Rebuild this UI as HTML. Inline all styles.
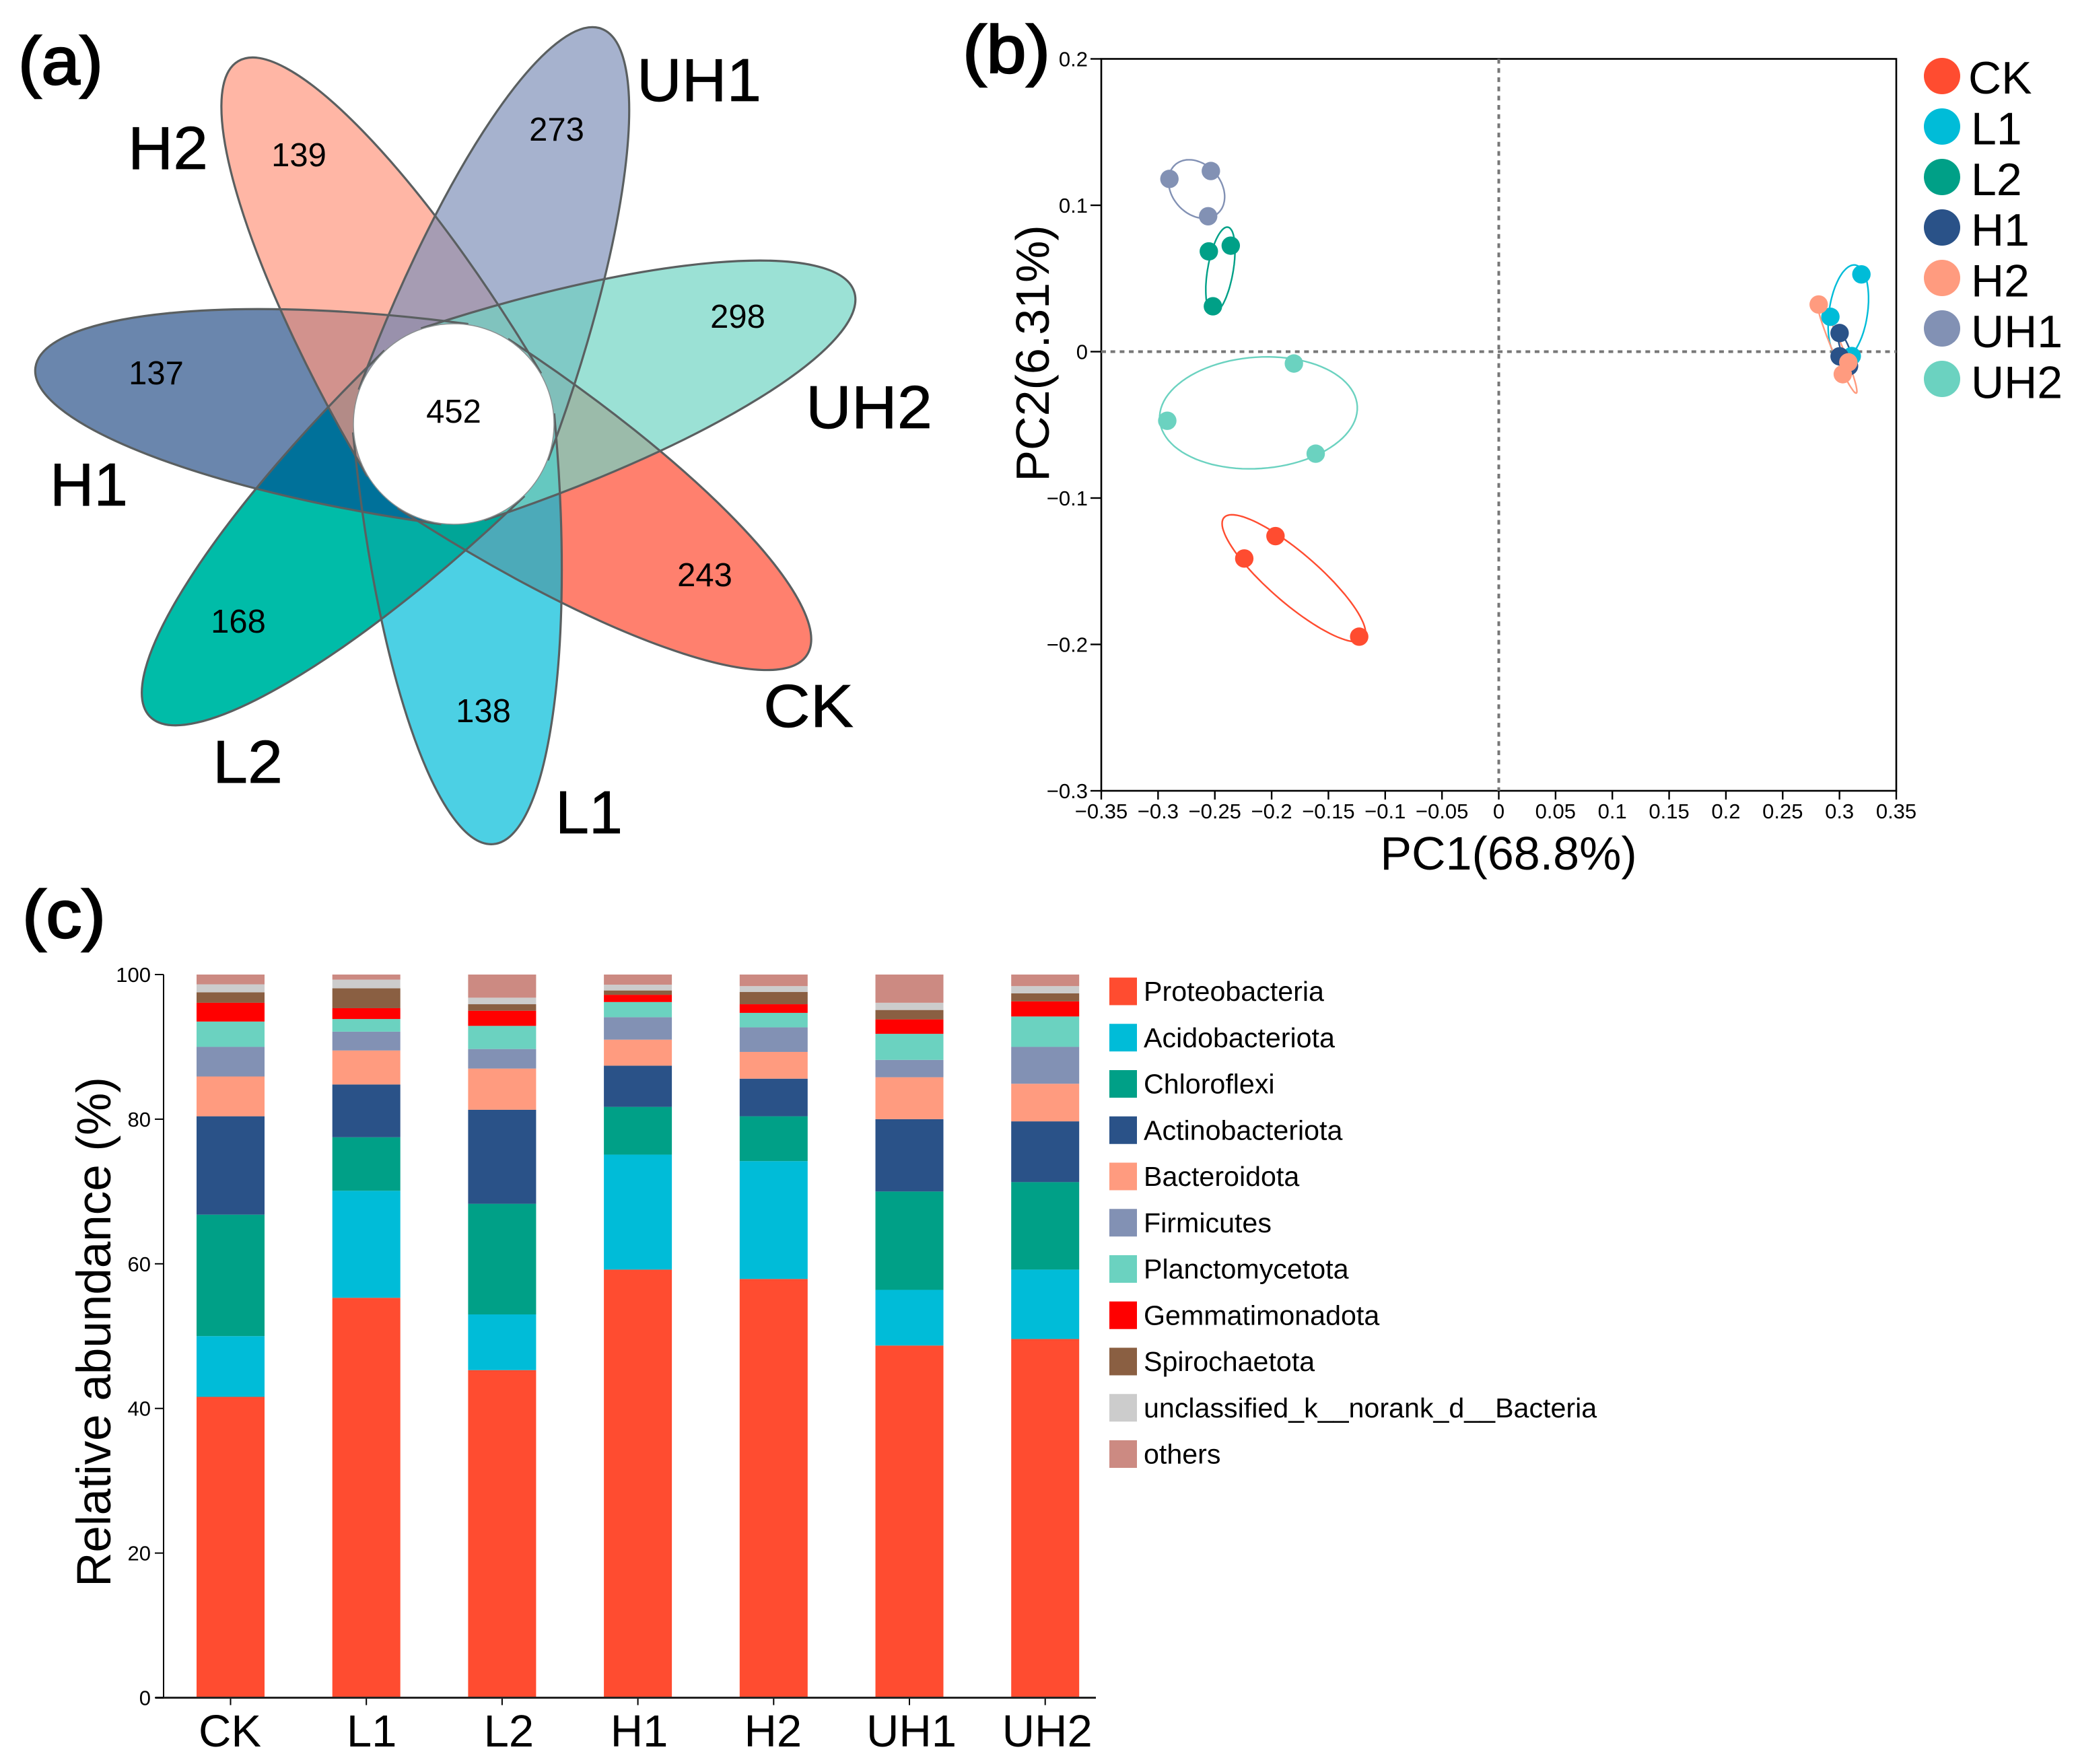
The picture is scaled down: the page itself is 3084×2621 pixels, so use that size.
<!DOCTYPE html>
<html lang="en">
<head>
<meta charset="utf-8">
<title>Microbial community composition figure</title>
<style>
html,body{margin:0;padding:0;background:#fff;}
svg{display:block;}
text{font-family:"Liberation Sans",Arial,sans-serif;fill:#000;}
.panel{font-size:100px;stroke:#000;stroke-width:2.4px;}
.vlabel{font-size:90px;stroke:#000;stroke-width:0.7px;}
.vcount{font-size:49px;text-anchor:middle;}
</style>
</head>
<body>
<svg id="fig" xmlns="http://www.w3.org/2000/svg" width="3084" height="2621" viewBox="0 0 3084 2621">
  <rect x="0" y="0" width="3084" height="2621" fill="#ffffff"/>
  <defs><clipPath id="l2clip"><path id="l2clipPath" d=""/></clipPath></defs>

  <g id="venn">
    <g id="vennFills"></g>
    <g id="vennStrokes"></g>
    <circle cx="674" cy="630" r="149" fill="#ffffff" stroke="#8a8f90" stroke-width="1.5"/>
    <text class="vlabel" x="946" y="150" textLength="185" lengthAdjust="spacingAndGlyphs">UH1</text>
    <text class="vlabel" x="190" y="251" textLength="119" lengthAdjust="spacingAndGlyphs">H2</text>
    <text class="vlabel" x="1197" y="636" textLength="188" lengthAdjust="spacingAndGlyphs">UH2</text>
    <text class="vlabel" x="74" y="751" textLength="116" lengthAdjust="spacingAndGlyphs">H1</text>
    <text class="vlabel" x="1134" y="1080" textLength="134" lengthAdjust="spacingAndGlyphs">CK</text>
    <text class="vlabel" x="316" y="1163" textLength="104" lengthAdjust="spacingAndGlyphs">L2</text>
    <text class="vlabel" x="825" y="1238" textLength="100" lengthAdjust="spacingAndGlyphs">L1</text>
    <text class="vcount" x="444" y="247">139</text>
    <text class="vcount" x="827" y="209">273</text>
    <text class="vcount" x="1096" y="487">298</text>
    <text class="vcount" x="232" y="571">137</text>
    <text class="vcount" x="674" y="628">452</text>
    <text class="vcount" x="354" y="940">168</text>
    <text class="vcount" x="718" y="1073">138</text>
    <text class="vcount" x="1047" y="871">243</text>
  </g>

  <g id="pca"></g>
  <g id="bars"></g>

  <text class="panel" x="27" y="125" textLength="126" lengthAdjust="spacingAndGlyphs">(a)</text>
  <text class="panel" x="1430" y="108" textLength="130" lengthAdjust="spacingAndGlyphs">(b)</text>
  <text class="panel" x="33" y="1393" textLength="124" lengthAdjust="spacingAndGlyphs">(c)</text>
</svg>

<script>
/* ---------- shared ---------- */
var groupNames = ['CK', 'L1', 'L2', 'H1', 'H2', 'UH1', 'UH2'];

/* ---------- PCA data ---------- */
var pc1Ticks = [-0.35, -0.3, -0.25, -0.2, -0.15, -0.1, -0.05, 0, 0.05, 0.1, 0.15, 0.2, 0.25, 0.3, 0.35];
var pc2Ticks = [-0.3, -0.2, -0.1, 0, 0.1, 0.2];
var pc1Values = [
  [-0.1966, -0.2241, -0.1229],
  [0.3193, 0.2920, 0.3108],
  [-0.2360, -0.2553, -0.2517],
  [0.3001, 0.3001, 0.3084],
  [0.2817, 0.3078, 0.3029],
  [-0.2900, -0.2535, -0.2559],
  [-0.1804, -0.2919, -0.1612]
];
var pc2Values = [
  [-0.1260, -0.1413, -0.1947],
  [0.0528, 0.0238, -0.0030],
  [0.0724, 0.0685, 0.0310],
  [0.0127, -0.0032, -0.0099],
  [0.0322, -0.0073, -0.0154],
  [0.1180, 0.1234, 0.0925],
  [-0.0081, -0.0472, -0.0697]
];
/* confidence ellipses in data units: centre, first and second semi-axis vectors */
var ellipseCenterPc1 = [-0.1804, 0.3078, -0.2451, 0.3053, 0.2980, -0.2661, -0.2116];
var ellipseCenterPc2 = [-0.1548, 0.0270, 0.0557, 0.0009, 0.0024, 0.1111, -0.0418];
var ellipseAxisAPc1 = [0.0611, 0.0059, 0.0060, 0.0055, 0.0168, 0.0192, 0.0870];
var ellipseAxisAPc2 = [-0.0418, 0.0322, 0.0294, -0.0115, -0.0307, -0.0163, 0.0020];
var ellipseAxisBPc1 = [0.0162, 0.0168, 0.0114, 0.0036, 0.0042, 0.0156, 0.0030];
var ellipseAxisBPc2 = [0.0116, -0.0015, 0.0000, 0.0008, 0.0014, 0.0116, 0.0382];

/* ---------- stacked bar data (percent) ---------- */
var abundanceTicks = [0, 20, 40, 60, 80, 100];
var taxaNames = ['Proteobacteria', 'Acidobacteriota', 'Chloroflexi', 'Actinobacteriota', 'Bacteroidota', 'Firmicutes', 'Planctomycetota', 'Gemmatimonadota', 'Spirochaetota', 'unclassified_k__norank_d__Bacteria', 'others'];
var proteobacteria = [41.6, 55.3, 45.3, 59.2, 57.9, 48.7, 49.6];
var acidobacteriota = [8.4, 14.8, 7.7, 15.9, 16.3, 7.7, 9.6];
var chloroflexi = [16.8, 7.4, 15.3, 6.6, 6.2, 13.6, 12.1];
var actinobacteriota = [13.6, 7.3, 13.0, 5.7, 5.2, 10.0, 8.4];
var bacteroidota = [5.5, 4.7, 5.7, 3.6, 3.7, 5.8, 5.2];
var firmicutes = [4.1, 2.6, 2.7, 3.1, 3.4, 2.4, 5.1];
var planctomycetota = [3.5, 1.75, 3.2, 2.1, 2.0, 3.6, 4.2];
var gemmatimonadota = [2.6, 1.5, 2.1, 1.0, 1.2, 2.0, 2.1];
var spirochaetota = [1.45, 2.75, 0.9, 0.6, 1.7, 1.3, 1.1];
var unclassifiedBacteria = [1.1, 1.2, 0.9, 0.8, 0.8, 1.0, 1.0];
var othersTaxa = [1.35, 0.7, 3.2, 1.4, 1.6, 3.9, 1.6];

/* ---------- helpers ---------- */
var NS = 'http://www.w3.org/2000/svg';
function mk(tag, attrs, parent) {
  var el = document.createElementNS(NS, tag);
  for (var k in attrs) { el.setAttribute(k, attrs[k]); }
  parent.appendChild(el);
  return el;
}
function slug(s) { return String(s).toLowerCase().replace(/[^a-z0-9]+/g, '-').replace(/^-|-$/g, ''); }
function fmt(v) {
  var s = String(Math.abs(v));
  return (v < 0 ? '\u2212' : '') + s;
}
var groupColors = ['#ff4c30', '#00bcd8', '#00a087', '#2a5288', '#ff9b7f', '#8291b4', '#6bd2c0'];

/* ---------- Venn petals ---------- */
(function () {
  var cx = 674, cy = 630, rx = 627, ry = 150;
  var petalOrder = ['CK', 'L1', 'L2', 'H1', 'H2', 'UH1', 'UH2'];
  var angleOf = { UH1: -69.5, UH2: -18.3, CK: 33.2, L1: 84.6, L2: 136.1, H1: 187.7, H2: 239.3 };
  var fillOf = {
    CK: ['#ff4a30', 0.7], L1: ['#00bcd8', 0.7], L2: ['#00bca8', 1],
    H1: ['#2b528a', 0.7], H2: ['#ff977f', 0.7], UH1: ['#8091b9', 0.7], UH2: ['#70d4c3', 0.7]
  };
  function petalPath(name) {
    var t = angleOf[name] * Math.PI / 180;
    var nx = -Math.sin(t), ny = Math.cos(t);
    return 'M' + (cx + ry * nx) + ' ' + (cy + ry * ny) +
      ' A' + rx + ' ' + ry + ' ' + angleOf[name] + ' 0 0 ' + (cx - ry * nx) + ' ' + (cy - ry * ny) + ' Z';
  }
  function overlap(name, color) {
    var o = mk('path', { d: petalPath(name), fill: color, 'clip-path': 'url(#l2clip)' }, fills);
    
    
  }
  var fills = document.getElementById('vennFills');
  var strokes = document.getElementById('vennStrokes');
  document.getElementById('l2clipPath').setAttribute('d', petalPath('L2'));
  petalOrder.forEach(function (name) {
    var p = mk('path', { d: petalPath(name), fill: fillOf[name][0], 'fill-opacity': fillOf[name][1] }, fills);
    
    
    if (name === 'L2') {
      overlap('L1', '#03aea4');
      overlap('CK', '#01a597');
    }
    if (name === 'H1') {
      overlap('H1', '#00719a');
    }
  });
  petalOrder.forEach(function (name) {
    var s = mk('path', { d: petalPath(name), fill: 'none', stroke: '#5a5f60', 'stroke-width': 3.2 }, strokes);
    
    
  });
})();

/* ---------- PCA plot ---------- */
(function () {
  var g = document.getElementById('pca');
  var left = 1636, right = 2817, top = 87.5, bottom = 1175;
  function xScale(v) { return left + (v + 0.35) / 0.7 * (right - left); }
  function yScale(v) { return bottom - (v + 0.3) / 0.5 * (bottom - top); }

  var frame = mk('rect', { x: left, y: top, width: right - left, height: bottom - top, fill: 'none', stroke: '#000', 'stroke-width': 2.6 }, g);
  
  

  var h0 = mk('line', { x1: left, x2: right, y1: yScale(0), y2: yScale(0), stroke: '#777', 'stroke-width': 4, 'stroke-dasharray': '7 6.7' }, g);
  
  
  var v0 = mk('line', { x1: xScale(0), x2: xScale(0), y1: top, y2: bottom, stroke: '#777', 'stroke-width': 4, 'stroke-dasharray': '7 6.7' }, g);
  
  

  pc1Ticks.forEach(function (v) {
    var t = mk('line', { x1: xScale(v), x2: xScale(v), y1: bottom, y2: bottom + 13, stroke: '#000', 'stroke-width': 2.4 }, g);
    
    
    var l = mk('text', { x: xScale(v), y: 1216, 'text-anchor': 'middle', 'font-size': 31 }, g);
    
    
    l.textContent = fmt(v);
  });
  pc2Ticks.forEach(function (v) {
    var t = mk('line', { x1: left - 16, x2: left, y1: yScale(v), y2: yScale(v), stroke: '#000', 'stroke-width': 2.4 }, g);
    
    
    var l = mk('text', { x: left - 20, y: yScale(v) + 11, 'text-anchor': 'end', 'font-size': 31 }, g);
    
    
    l.textContent = fmt(v);
  });

  var xt = mk('text', { x: 2241, y: 1292, 'text-anchor': 'middle', 'font-size': 70 }, g);
  
  
  xt.textContent = 'PC1(68.8%)';
  var yt = mk('text', { x: 0, y: 0, 'text-anchor': 'middle', 'font-size': 70, transform: 'translate(1558 525) rotate(-90)' }, g);
  
  
  yt.textContent = 'PC2(6.31%)';

  groupNames.forEach(function (name, i) {
    var d = '';
    for (var k = 0; k <= 96; k++) {
      var a = k / 96 * 2 * Math.PI;
      var px = ellipseCenterPc1[i] + ellipseAxisAPc1[i] * Math.cos(a) + ellipseAxisBPc1[i] * Math.sin(a);
      var py = ellipseCenterPc2[i] + ellipseAxisAPc2[i] * Math.cos(a) + ellipseAxisBPc2[i] * Math.sin(a);
      d += (k ? 'L' : 'M') + xScale(px).toFixed(1) + ' ' + yScale(py).toFixed(1);
    }
    var e = mk('path', { d: d + 'Z', fill: 'none', stroke: groupColors[i], 'stroke-width': 2.4 }, g);
    
    
  });
  groupNames.forEach(function (name, i) {
    pc1Values[i].forEach(function (v, j) {
      var c = mk('circle', { cx: xScale(v), cy: yScale(pc2Values[i][j]), r: 13.7, fill: groupColors[i] }, g);
      
      
    });
    var ly = 113 + i * 75;
    var dot = mk('circle', { cx: 2885, cy: ly, r: 27, fill: groupColors[i] }, g);
    
    
    var tx = mk('text', { x: name === 'CK' ? 2924 : 2928, y: 139 + i * 75.4, 'font-size': 68 }, g);
    
    
    tx.textContent = name;
  });
})();

/* ---------- stacked bars ---------- */
(function () {
  var g = document.getElementById('bars');
  var series = [proteobacteria, acidobacteriota, chloroflexi, actinobacteriota, bacteroidota, firmicutes, planctomycetota, gemmatimonadota, spirochaetota, unclassifiedBacteria, othersTaxa];
  var colors = ['#ff4c30', '#00bcd8', '#00a087', '#2a5288', '#ff9b7f', '#8291b4', '#6bd2c0', '#ff0000', '#8a5f42', '#cccccc', '#cc8a82'];
  var axisX = 243, y0 = 2522.5, y100 = 1448, bandW = 201.7, firstC = 342.5, barW = 101;
  var labelNudge = [-1, 8, 10, 2, -1, 3, 3];
  function yScale(v) { return y0 - v / 100 * (y0 - y100); }
  function xScale(i) { return firstC + i * bandW; }

  groupNames.forEach(function (name, i) {
    var acc = 0;
    series.forEach(function (arr, s) {
      var y1 = yScale(acc), y2 = yScale(acc + arr[i]);
      var r = mk('rect', { x: xScale(i) - barW / 2, y: y2, width: barW, height: y1 - y2, fill: colors[s] }, g);
      
      
      acc += arr[i];
    });
    var t = mk('line', { x1: xScale(i), x2: xScale(i), y1: y0, y2: y0 + 11, stroke: '#000', 'stroke-width': 2 }, g);
    
    
    var l = mk('text', { x: xScale(i) + labelNudge[i], y: 2595, 'text-anchor': 'middle', 'font-size': 67 }, g);
    
    
    l.textContent = name;
  });

  var ya = mk('line', { x1: axisX, x2: axisX, y1: y100, y2: y0, stroke: '#000', 'stroke-width': 2 }, g);
  
  
  var xa = mk('line', { x1: 231, x2: 1628, y1: y0, y2: y0, stroke: '#222', 'stroke-width': 3 }, g);
  
  

  abundanceTicks.forEach(function (v) {
    var t = mk('line', { x1: axisX - 13, x2: axisX, y1: yScale(v), y2: yScale(v), stroke: '#000', 'stroke-width': 2 }, g);
    
    
    var l = mk('text', { x: 224, y: yScale(v) + 11, 'text-anchor': 'end', 'font-size': 31 }, g);
    
    
    l.textContent = String(v);
  });

  var yt = mk('text', { x: 0, y: 0, 'text-anchor': 'middle', 'font-size': 71, transform: 'translate(164 1979) rotate(-90)' }, g);
  
  
  yt.textContent = 'Relative abundance (%)';

  taxaNames.forEach(function (name, i) {
    var cy = 1473 + i * 68.75;
    var sw = mk('rect', { x: 1648, y: cy - 20.5, width: 41, height: 41, fill: colors[i] }, g);
    
    
    var tx = mk('text', { x: 1699, y: cy + 14, 'font-size': 41.2 }, g);
    
    
    tx.textContent = name;
  });
})();
</script>
</body>
</html>
